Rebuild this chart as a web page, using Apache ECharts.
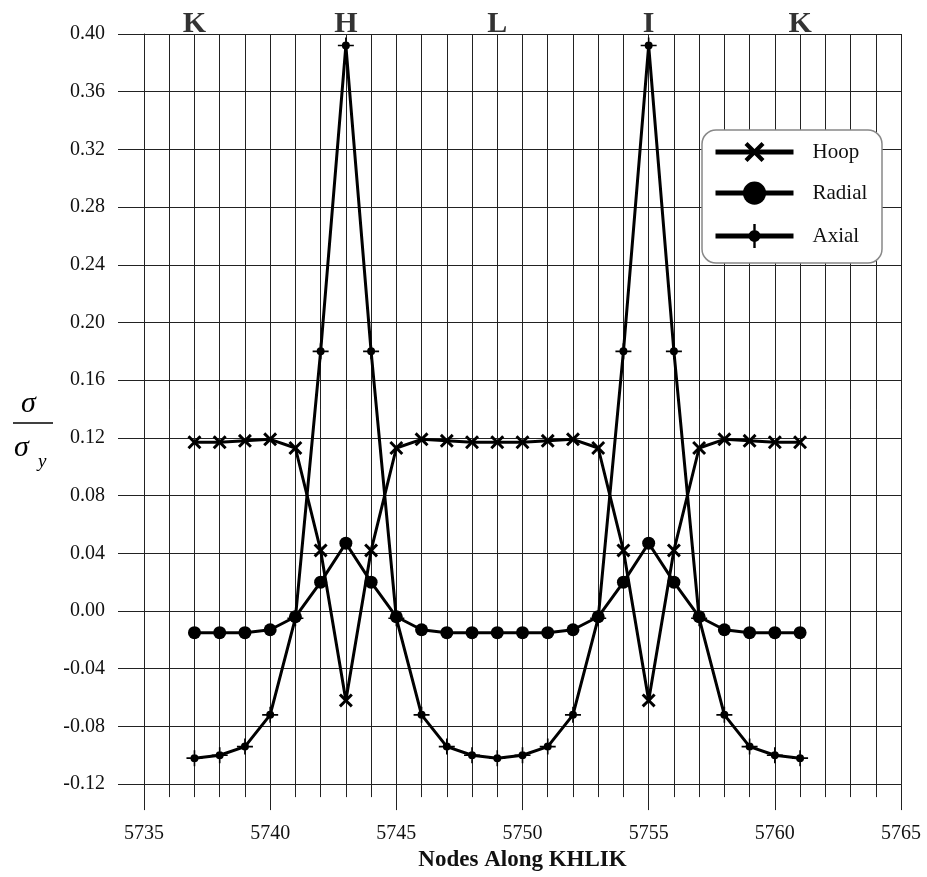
<html>
<head>
    <meta charset="utf-8" />
    <title>Stress along KHLIK</title>
    <script src="https://cdn.jsdelivr.net/npm/echarts@6/dist/echarts.min.js"></script>
    <style>
        body { margin: 0; background: #fff; }
    </style>
</head>
<body>
    <div id="chart" style="width: 927px;height:877px;"></div>
    <script type="text/javascript">
        // nodes along the path K-H-L-I-K
        var nodes = [5737, 5738, 5739, 5740, 5741, 5742, 5743, 5744, 5745, 5746, 5747, 5748, 5749,
                     5750, 5751, 5752, 5753, 5754, 5755, 5756, 5757, 5758, 5759, 5760, 5761];
        var hoop = [0.117, 0.117, 0.118, 0.119, 0.113, 0.042, -0.062, 0.042, 0.113, 0.119, 0.118, 0.117, 0.117,
                    0.117, 0.118, 0.119, 0.113, 0.042, -0.062, 0.042, 0.113, 0.119, 0.118, 0.117, 0.117];
        var radial = [-0.015, -0.015, -0.015, -0.013, -0.004, 0.020, 0.047, 0.020, -0.004, -0.013, -0.015, -0.015, -0.015,
                      -0.015, -0.015, -0.013, -0.004, 0.020, 0.047, 0.020, -0.004, -0.013, -0.015, -0.015, -0.015];
        var axial = [-0.102, -0.100, -0.094, -0.072, -0.005, 0.180, 0.392, 0.180, -0.005, -0.072, -0.094, -0.100, -0.102,
                     -0.100, -0.094, -0.072, -0.005, 0.180, 0.392, 0.180, -0.005, -0.072, -0.094, -0.100, -0.102];
        // letters over the plot
        var pointNames = ['K', 'H', 'L', 'I', 'K'];
        var pointNodes = [5737, 5743, 5749, 5755, 5761];

        var serif = '"Liberation Serif", "Times New Roman", serif';
        var gridColor = '#222';
        var xMark = 'path://M0,1.5 L1.5,0 L5,3.5 L8.5,0 L10,1.5 L6.5,5 L10,8.5 L8.5,10 L5,6.5 L1.5,10 L0,8.5 L3.5,5 Z';
        var dotPlus = 'path://M0,9 L20,9 L20,11 L0,11 Z M9,0 L11,0 L11,20 L9,20 Z M5,10 A5,5 0 1,1 15,10 A5,5 0 1,1 5,10 Z';

        function pairs(vals) {
            return nodes.map(function (n, i) { return [n, vals[i]]; });
        }

        var chart = echarts.init(document.getElementById('chart'));

        function legendAt(name, top, h) {
            return {
                data: [name],
                left: 713,
                top: top - h / 2,
                padding: 0,
                itemWidth: 78,
                itemHeight: h,
                selectedMode: false,
                lineStyle: { width: 5 },
                textStyle: { fontFamily: serif, fontSize: 21, color: '#111', padding: [0, 0, 0, 14] },
                z: 5
            };
        }

        var option = {
            animation: false,
            backgroundColor: '#fff',
            grid: { left: 144, right: 26, top: 34, bottom: 92 },
            legend: [
                legendAt('Hoop', 154, 25),
                legendAt('Radial', 196, 29),
                legendAt('Axial', 239, 30)
            ],
            graphic: [
                { type: 'rect', z: 3, shape: { x: 702, y: 130, width: 180, height: 133, r: 14 },
                  style: { fill: '#fff', stroke: '#888', lineWidth: 1.5 } },
                { type: 'text', left: 21, top: 389, style: { text: 'σ', font: 'italic 30px ' + serif, fill: '#000' } },
                { type: 'line', shape: { x1: 13, y1: 423, x2: 53, y2: 423 }, style: { stroke: '#000', lineWidth: 1.5 } },
                { type: 'text', left: 14, top: 433, style: { text: 'σ', font: 'italic 30px ' + serif, fill: '#000' } },
                { type: 'text', left: 38, top: 452, style: { text: 'y', font: 'italic 19px ' + serif, fill: '#000' } }
            ],
            xAxis: {
                type: 'value',
                min: 5735,
                max: 5765,
                interval: 5,
                name: 'Nodes Along KHLIK',
                nameLocation: 'middle',
                nameGap: 58,
                nameTextStyle: { fontFamily: serif, fontWeight: 'bold', fontSize: 23, color: '#111' },
                axisLine: { show: true, onZero: false, lineStyle: { color: gridColor, width: 1 } },
                axisTick: { show: true, length: 26, lineStyle: { color: gridColor } },
                minorTick: { show: true, splitNumber: 5, length: 13, lineStyle: { color: gridColor } },
                axisLabel: {
                    margin: 40, fontFamily: serif, fontSize: 20, color: '#111',
                    formatter: function (v) { return String(v); }
                },
                splitLine: { show: true, lineStyle: { color: gridColor, width: 1 } },
                minorSplitLine: { show: true, lineStyle: { color: gridColor, width: 1 } }
            },
            yAxis: {
                type: 'value',
                min: -0.12,
                max: 0.40,
                interval: 0.04,
                axisLine: { show: true, lineStyle: { color: gridColor, width: 1 } },
                axisTick: { show: true, length: 26, lineStyle: { color: gridColor } },
                axisLabel: {
                    margin: 39, fontFamily: serif, fontSize: 20, color: '#111',
                    formatter: function (v) { return v.toFixed(2); }
                },
                splitLine: { show: true, lineStyle: { color: gridColor, width: 1 } }
            },
            series: [
                {
                    name: 'Hoop', type: 'line', data: pairs(hoop),
                    symbol: xMark, symbolSize: 14, showAllSymbol: true,
                    itemStyle: { color: '#000' }, lineStyle: { color: '#000', width: 3 }
                },
                {
                    name: 'Radial', type: 'line', data: pairs(radial),
                    symbol: 'circle', symbolSize: 13, showAllSymbol: true,
                    itemStyle: { color: '#000' }, lineStyle: { color: '#000', width: 3 }
                },
                {
                    name: 'Axial', type: 'line', data: pairs(axial),
                    symbol: dotPlus, symbolSize: 16, showAllSymbol: true,
                    itemStyle: { color: '#000' }, lineStyle: { color: '#000', width: 3 }
                },
                {
                    // path letters sitting on the top edge
                    name: 'points', type: 'scatter', silent: true, clip: false,
                    data: pointNodes.map(function (n, i) { return { value: [n, 0.40], name: pointNames[i] }; }),
                    symbolSize: 0,
                    label: {
                        show: true, position: 'top', distance: -5,
                        formatter: '{b}',
                        fontFamily: serif, fontWeight: 'bold', fontSize: 30, color: '#000'
                    }
                }
            ]
        };
        option && chart.setOption(option);
    </script>
</body>
</html>
